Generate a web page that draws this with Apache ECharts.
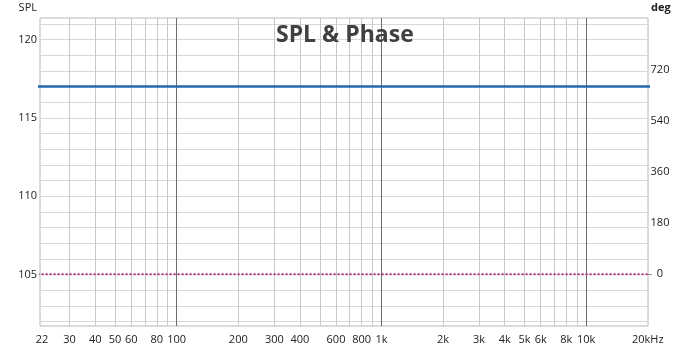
<!DOCTYPE html>
<html><head><meta charset="utf-8">
<script src="https://cdn.jsdelivr.net/npm/echarts@6/dist/echarts.min.js"></script>
<style>html,body{margin:0;padding:0;background:#fff}#c{width:700px;height:351px}</style>
</head><body><div id="c"></div>
<script>
// data (flat curves spanning the whole plotted band)
const freq = [20, 100, 1000, 10000, 24000];
const spl = [117, 117, 117, 117, 117];
const phase = [0, 0, 0, 0, 0];
// ticks
const xLabelValues = [22,30,40,50,60,80,100,200,300,400,600,800,1000,2000,3000,4000,5000,6000,8000,10000,20000];
const xLabelText = ['22','30','40','50','60','80','100','200','300','400','600','800','1k','2k','3k','4k','5k','6k','8k','10k','20kHz'];
const xMinorGrid = [30,40,50,60,70,80,90,200,300,400,500,600,700,800,900,2000,3000,4000,5000,6000,7000,8000,9000];
const xMajorGrid = [100,1000,10000];
const splLabels = [105,110,115,120];
const splGrid = [102,103,104,105,106,107,108,109,110,111,112,113,114,115,116,117,118,119,120,121];
const degLabels = [0,180,360,540,720];

const font = 'Open Sans';
const X_MIN = 21.5, X_MAX = 20050;
const chart = echarts.init(document.getElementById('c'), null, {renderer:'canvas'});
chart.setOption({
  animation: false,
  title: { text: 'SPL & Phase', left: 271, top: 19,
    textStyle: { fontFamily: font, fontSize: 23, fontWeight: 'bold', color: '#404040' } },
  grid: { left: 40, right: 52, top: 18, height: 308, show: true, borderColor: '#b8b8b8', borderWidth: 1, backgroundColor: 'transparent' },
  xAxis: [
    { type: 'log', min: X_MIN, max: X_MAX, position: 'bottom',
      axisLine: { show: false }, axisTick: { show: false, customValues: xMinorGrid },
      splitLine: { show: true, lineStyle: { color: '#c8c8c8', width: 1 } },
      axisLabel: { customValues: xLabelValues, margin: 8, fontFamily: font, fontSize: 11, color: '#222',
        formatter: v => { const i = xLabelValues.findIndex(x => Math.abs(x - v) < 1e-6 * x); return i >= 0 ? xLabelText[i] : ''; } }
    },
    { type: 'log', min: X_MIN, max: X_MAX, position: 'bottom',
      axisLine: { show: false }, axisTick: { show: false, customValues: xMajorGrid },
      splitLine: { show: true, lineStyle: { color: '#6e6e6e', width: 1 } },
      axisLabel: { show: false }
    }
  ],
  yAxis: [
    { type: 'value', min: 101.71, max: 121.37, position: 'left',
      name: 'SPL', nameLocation: 'end', nameGap: 10,
      nameTextStyle: { fontFamily: font, fontSize: 11, color: '#222', align: 'right', verticalAlign: 'middle', padding: [0, 3, 0, 0] },
      axisLine: { show: false }, axisTick: { show: false, customValues: splGrid },
      splitLine: { show: true, lineStyle: { color: '#d8d8d8', width: 1 } },
      axisLabel: { customValues: splLabels, margin: 3, fontFamily: font, fontSize: 11, color: '#222' }
    },
    { type: 'value', min: -182, max: 903, position: 'right',
      name: 'deg', nameLocation: 'end', nameGap: 10,
      nameTextStyle: { fontFamily: font, fontSize: 11, fontWeight: 'bold', color: '#222', align: 'left', verticalAlign: 'middle', padding: [0, 0, 0, 3] },
      axisLine: { show: false },
      axisTick: { show: true, length: 4, customValues: [0], lineStyle: { color: '#7a8fa8' } },
      splitLine: { show: false },
      axisLabel: { customValues: degLabels, margin: 12, align: 'center', fontFamily: font, fontSize: 11, color: '#222' }
    }
  ],
  series: [
    { name: 'SPL', type: 'line', xAxisIndex: 0, yAxisIndex: 0, showSymbol: false, clip: true,
      data: freq.map((f, i) => [f, spl[i]]),
      lineStyle: { color: '#2468b0', width: 2.5 }, z: 3 },
    { name: 'Phase', type: 'line', xAxisIndex: 0, yAxisIndex: 1, showSymbol: false, clip: true,
      data: freq.map((f, i) => [f, phase[i]]),
      lineStyle: { color: '#b0307c', width: 2, type: [2, 2] }, z: 3 }
  ]
});
</script></body></html>
